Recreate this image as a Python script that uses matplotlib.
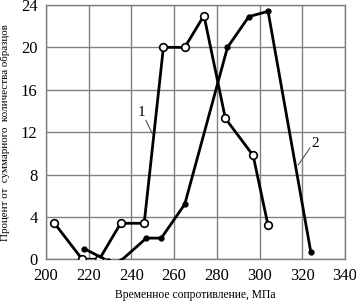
import matplotlib
matplotlib.use("Agg")
import matplotlib.pyplot as plt

# curve 1 (open circles)
x1 = [204, 217, 225, 235, 246, 255, 265, 274, 284, 297, 304]
y1 = [3.4, 0, 0, 3.4, 3.4, 20, 20, 23, 13.3, 9.8, 3.2]
# curve 2 (filled dots)
x2 = [218, 229, 235, 247, 254, 265, 285, 295, 304, 324]
y2 = [1.0, -0.15, -0.15, 2.0, 2.0, 5.2, 20, 22.9, 23.4, 0.7]

xticks = [200, 220, 240, 260, 280, 300, 320, 340]
yticks = [0, 4, 8, 12, 16, 20, 24]

plt.rcParams['font.family'] = ['Liberation Serif', 'DejaVu Serif']

fig = plt.figure(figsize=(3.56, 3.01), dpi=100)
ax = fig.add_axes([0.129, 0.1385, 0.840, 0.845])

ax.plot(x1, y1, '-', color='black', lw=2, marker='o', ms=5.5,
        mfc='white', mec='black', mew=1.2, zorder=3)
ax.plot(x2, y2, '-', color='black', lw=2, marker='o', ms=3.5,
        mfc='black', mec='black', zorder=3)

ax.set_xlim(200, 340)
ax.set_ylim(0, 24)
ax.set_xticks(xticks)
ax.set_yticks(yticks)
ax.tick_params(length=0, labelsize=12, pad=6)
ax.grid(True, color='#808080', lw=1)
for s in ax.spines.values():
    s.set_color('#808080')
    s.set_linewidth(1)
ax.set_axisbelow(True)

ax.set_xlabel('Временное сопротивление, МПа', fontsize=8.4, labelpad=4)
ax.set_ylabel('Процент от  суммарного  количества образцов', fontsize=7.9, labelpad=8)

# curve labels with leader lines
ax.text(244.8, 13.9, '1', fontsize=11, ha='center', va='center')
ax.plot([246.8, 249.7], [13.1, 11.9], color='#555555', lw=0.8)
ax.text(325.9, 10.9, '2', fontsize=11, ha='center', va='center')
ax.plot([323.6, 318.1], [10.5, 8.9], color='#555555', lw=0.8)

fig.savefig('out.png', dpi=100)
